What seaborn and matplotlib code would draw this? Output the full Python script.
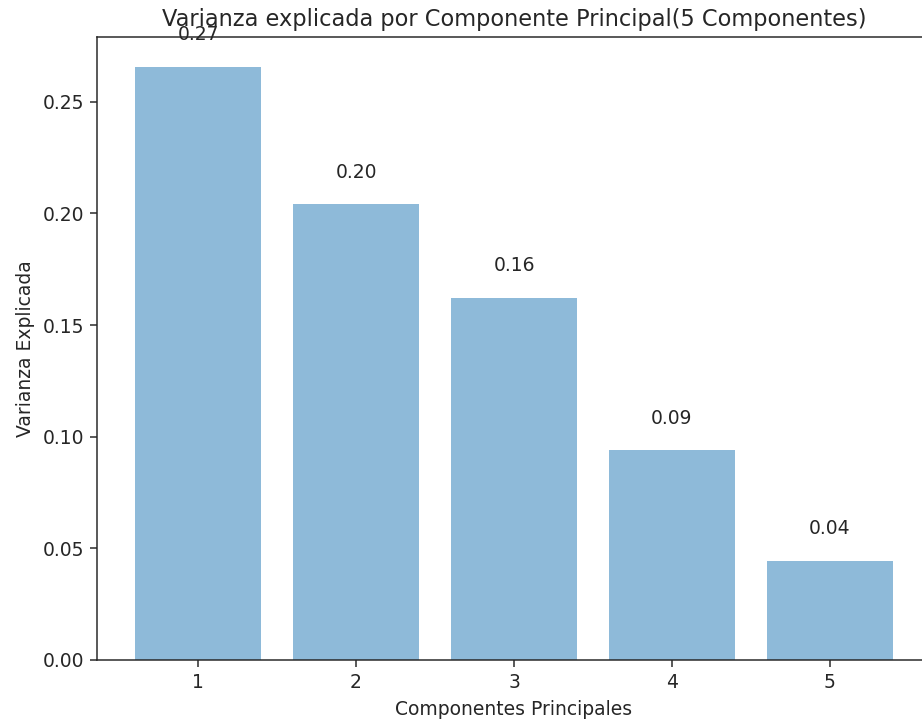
import matplotlib
matplotlib.use('Agg')
import matplotlib.pyplot as plt
import pandas as pd
import seaborn as sns

componentes = ['1', '2', '3', '4', '5']
varianza = [0.2657, 0.2040, 0.1622, 0.0941, 0.0444]

data = pd.DataFrame({'Componente': componentes, 'Varianza': varianza})

gris = '#262626'
plt.rcParams.update({'text.color': gris, 'axes.labelcolor': gris,
                     'xtick.color': gris, 'ytick.color': gris,
                     'axes.edgecolor': gris})

dpi = 135
fig = plt.figure(figsize=(922 / dpi, 725 / dpi), dpi=dpi)
ax = fig.add_axes([0.1052, 0.0897, 0.9046, 0.8593])

sns.barplot(data=data, x='Componente', y='Varianza', color='#1f77b4',
            alpha=0.5, saturation=1, width=0.8, ax=ax)

for i, v in enumerate(varianza):
    ax.text(i, v + 0.01, f'{v:.2f}', ha='center', va='bottom', fontsize=10)

ax.set_xlim(-0.64, 4.64)
ax.set_ylim(0, max(varianza) * 1.05)
ax.set_title('Varianza explicada por Componente Principal(5 Componentes)', fontsize=12)
ax.set_xlabel('Componentes Principales')
ax.set_ylabel('Varianza Explicada')

fig.savefig('out.png', dpi=dpi)
